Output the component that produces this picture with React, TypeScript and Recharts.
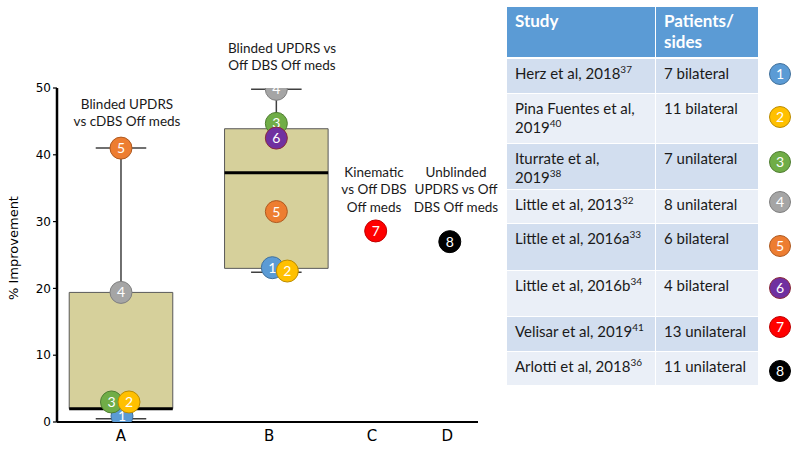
import React from 'react';
import { ComposedChart, XAxis, YAxis, Scatter, ReferenceArea, ReferenceLine } from 'recharts';

// comparisons on the x axis
const categories = ['A', 'B', 'C', 'D'];

// % improvement per study (index = study number - 1), null = not in that comparison
const improvementA = [0.9, 3.0, 3.0, 19.4, 41.0, null, null, null];
const improvementB = [23.1, 22.6, 44.7, 49.8, 31.5, 42.5, null, null];
const improvementC = [null, null, null, null, null, null, 28.6, null];
const improvementD = [null, null, null, null, null, null, null, 27.0];

// box summaries (A, B)
const boxMin = [0.5, 22.4];
const boxQ1 = [2.0, 23.0];
const boxMedian = [2.0, 37.3];
const boxQ3 = [19.4, 43.9];
const boxMax = [41.0, 49.8];

const yTicks = [0, 10, 20, 30, 40, 50];

const annotations = [
  'Blinded UPDRS\nvs cDBS Off meds',
  'Blinded UPDRS vs\nOff DBS Off meds',
  'Kinematic\nvs Off DBS\nOff meds',
  'Unblinded\nUPDRS vs Off\nDBS Off meds',
];

// table
const studyNames = [
  'Herz et al, 2018',
  'Pina Fuentes et al,\n2019',
  'Iturrate et al,\n2019',
  'Little et al, 2013',
  'Little et al, 2016a',
  'Little et al, 2016b',
  'Velisar et al, 2019',
  'Arlotti et al, 2018',
];
const studyRefs = ['37', '40', '38', '32', '33', '34', '41', '36'];
const patientsSides = [
  '7 bilateral',
  '11 bilateral',
  '7 unilateral',
  '8 unilateral',
  '6 bilateral',
  '4 bilateral',
  '13 unilateral',
  '11 unilateral',
];

// ---- styling / layout ----
const studyFill = ['#5B9BD5', '#FFC000', '#70AD47', '#A5A5A5', '#ED7D31', '#7030A0', '#FF0000', '#000000'];
const studyStroke = ['#41719C', '#BC8C00', '#507E32', '#7F7F7F', '#AE5A21', '#8B2A3A', '#C00000', '#000000'];
const slotX = [15.2, 52.1, 75.7, 93.3]; // where each comparison's marks sit (0-100)
const labelX = [15.2, 50.4, 74.8, 92.7]; // where the category letters sit
const boxHalf = 12.3;
const capHalf = 6;
const jitterPx: Record<string, number> = { A1: 1, A3: -9.5, A2: 8, B1: -4, B2: 11 };
const drawOrder = [1, 3, 2, 4, 5, 6, 7, 8];
const annotationPos = [
  { x: 127, y: 96 },
  { x: 282, y: 40 },
  { x: 374, y: 164 },
  { x: 456, y: 164 },
];
const rowHeights = [33.5, 49.5, 44.5, 33.5, 45.5, 45.5, 33.5, 33.5];
const legendY = [74, 117, 162, 202, 246, 288, 327, 371];
const bodyFont = 'Lato, "Open Sans", sans-serif';
const whisker = '#404040';

const series = [improvementA, improvementB, improvementC, improvementD];
const points: { x: number; y: number; id: number; key: string }[] = [];
drawOrder.forEach((id) => {
  series.forEach((vals, g) => {
    const v = vals[id - 1];
    if (v != null) points.push({ x: slotX[g], y: v, id, key: categories[g] + id });
  });
});

function Bubble(props: any) {
  const { cx, cy, payload } = props;
  if (cx == null || cy == null) return null;
  const x = cx + (jitterPx[payload.key] || 0);
  const i = payload.id - 1;
  return (
    <g>
      <circle cx={x} cy={cy} r={11} fill={studyFill[i]} stroke={studyStroke[i]} strokeWidth={1} />
      <text x={x} y={cy} dy="0.36em" textAnchor="middle" fill="#fff" fontSize={14} fontFamily={bodyFont}>
        {payload.id}
      </text>
    </g>
  );
}

function StudyTable() {
  const left = 507;
  const col1 = 148;
  const col2 = 102;
  const cell = { position: 'absolute' as const, boxSizing: 'border-box' as const, padding: '5px 8px', whiteSpace: 'pre' as const };
  let top = 59;
  const rows = studyNames.map((name, i) => {
    const h = rowHeights[i];
    const bg = i % 2 === 0 ? '#D2DEEF' : '#EAEFF7';
    const r = (
      <React.Fragment key={i}>
        <div style={{ ...cell, left, top, width: col1, height: h, background: bg }}>
          {name}
          <sup style={{ fontSize: 10, lineHeight: 0 }}>{studyRefs[i]}</sup>
        </div>
        <div style={{ ...cell, left: left + col1 + 1, top, width: col2, height: h, background: bg }}>{patientsSides[i]}</div>
        <div
          style={{
            position: 'absolute',
            left: 769,
            top: legendY[i] - 11,
            width: 22,
            height: 22,
            boxSizing: 'border-box',
            borderRadius: '50%',
            background: studyFill[i],
            border: `1px solid ${studyStroke[i]}`,
            color: '#fff',
            fontSize: 14,
            lineHeight: '20px',
            textAlign: 'center',
          }}
        >
          {i + 1}
        </div>
      </React.Fragment>
    );
    top += h + 1;
    return r;
  });
  const head = { ...cell, top: 7, height: 50, background: '#5B9BD5', color: '#fff', fontWeight: 700, fontSize: 17, lineHeight: '20.5px', padding: '4px 8px 3px' };
  return (
    <div style={{ fontFamily: bodyFont, fontSize: 15, lineHeight: '19px', color: '#1a1a1a' }}>
      <div style={{ ...head, left, width: col1 }}>Study</div>
      <div style={{ ...head, left: left + col1 + 1, width: col2 }}>{'Patients/\nsides'}</div>
      {rows}
    </div>
  );
}

export default function App() {
  return (
    <div style={{ position: 'absolute', left: 0, top: 0, width: 800, height: 449, background: '#fff', overflow: 'hidden' }}>
      <ComposedChart width={490} height={449} margin={{ top: 88, right: 12, bottom: 0, left: 17 }}>
        <XAxis
          type="number"
          dataKey="x"
          domain={[0, 100]}
          allowDataOverflow
          ticks={labelX}
          interval={0}
          tickFormatter={(v: number) => categories[labelX.indexOf(v)] ?? ''}
          height={27}
          stroke="#000"
          axisLine={{ stroke: '#000', strokeWidth: 2 }}
          tickLine={false}
          tickMargin={2}
          tick={{ fill: '#000', fontSize: 15, fontFamily: 'DejaVu Sans' }}
        />
        <YAxis
          type="number"
          dataKey="y"
          domain={[0, 50]}
          allowDataOverflow
          ticks={yTicks}
          interval={0}
          width={40}
          tickSize={4}
          tickMargin={2}
          stroke="#000"
          axisLine={{ stroke: '#000', strokeWidth: 2.5 }}
          tickLine={{ stroke: '#000', strokeWidth: 1.2 }}
          tick={{ fill: '#000', fontSize: 12, fontFamily: 'DejaVu Sans' }}
        />
        {/* whiskers: below and above each box */}
        {boxQ1.map((q1, i) => (
          <ReferenceLine
            key={`wlo${i}`}
            segment={[{ x: slotX[i], y: boxMin[i] }, { x: slotX[i], y: q1 }]}
            stroke={whisker}
            strokeWidth={1.5}
          />
        ))}
        {boxQ3.map((q3, i) => (
          <ReferenceLine
            key={`whi${i}`}
            segment={[{ x: slotX[i], y: q3 }, { x: slotX[i], y: boxMax[i] }]}
            stroke={whisker}
            strokeWidth={1.5}
          />
        ))}
        {boxQ1.map((q1, i) => (
          <ReferenceArea
            key={`box${i}`}
            x1={slotX[i] - boxHalf}
            x2={slotX[i] + boxHalf}
            y1={q1}
            y2={boxQ3[i]}
            fill="#D6D09B"
            fillOpacity={1}
            stroke="#595959"
            strokeWidth={1}
          />
        ))}
        {boxMedian.map((m, i) => (
          <ReferenceLine
            key={`med${i}`}
            segment={[{ x: slotX[i] - boxHalf, y: m }, { x: slotX[i] + boxHalf, y: m }]}
            stroke="#000"
            strokeWidth={3}
          />
        ))}
        {boxMax.map((v, i) => (
          <ReferenceLine
            key={`capHi${i}`}
            segment={[{ x: slotX[i] - capHalf, y: v }, { x: slotX[i] + capHalf, y: v }]}
            stroke={whisker}
            strokeWidth={1.5}
          />
        ))}
        {boxMin.map((v, i) => (
          <ReferenceLine
            key={`capLo${i}`}
            segment={[{ x: slotX[i] - capHalf, y: v }, { x: slotX[i] + capHalf, y: v }]}
            stroke={whisker}
            strokeWidth={1.5}
          />
        ))}
        <Scatter data={points} dataKey="y" shape={<Bubble />} isAnimationActive={false} />
      </ComposedChart>

      {annotations.map((t, i) => (
        <div
          key={i}
          style={{
            position: 'absolute',
            left: annotationPos[i].x - 60,
            top: annotationPos[i].y,
            width: 120,
            textAlign: 'center',
            whiteSpace: 'pre',
            fontFamily: bodyFont,
            fontSize: 13.5,
            lineHeight: '17.4px',
            color: '#1a1a1a',
          }}
        >
          {t}
        </div>
      ))}

      <div
        style={{
          position: 'absolute',
          left: 14 - 60,
          top: 248 - 9,
          width: 120,
          height: 18,
          lineHeight: '18px',
          textAlign: 'center',
          transform: 'rotate(-90deg)',
          fontFamily: 'DejaVu Sans',
          fontSize: 13,
          color: '#000',
          whiteSpace: 'nowrap',
        }}
      >
        % Improvement
      </div>

      <StudyTable />
    </div>
  );
}
